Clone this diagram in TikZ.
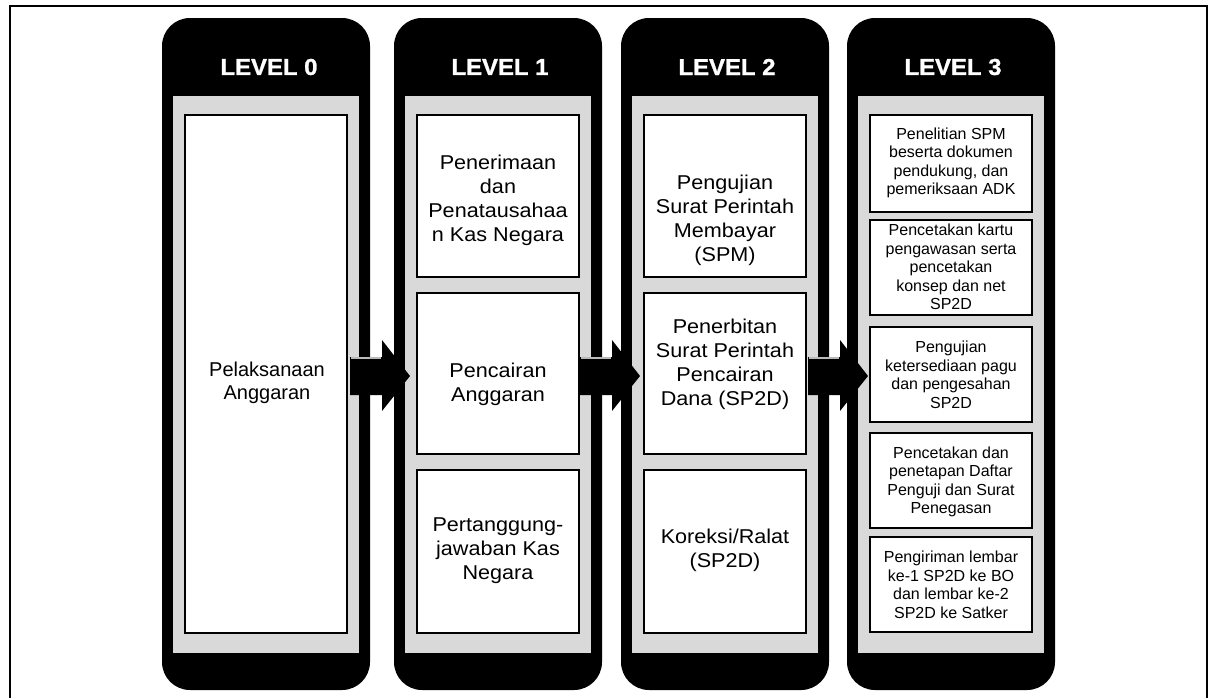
\documentclass[tikz,border=0pt]{standalone}
\usepackage{fontspec}
\setmainfont{Liberation Sans}
\newfontfamily\bodyfont{Liberation Sans}
\newfontfamily\widefont[FakeStretch=1.08]{Liberation Sans}
\newfontfamily\headfont[FakeStretch=1.04,FakeBold=1.2]{Liberation Sans}
\begin{document}
\begin{tikzpicture}[x=1pt,y=-1pt,
  colbox/.style={fill=black, rounded corners=28pt, minimum width=208pt, minimum height=672pt, inner sep=0pt},
  band/.style={fill=gray!30, minimum width=186pt, minimum height=557pt, inner sep=0pt},
  wbox/.style={draw=black, line width=1.6pt, fill=white, minimum width=162pt, inner sep=0pt},
  head/.style={text=white, font=\headfont\bfseries\fontsize{23}{26}\selectfont},
  txtZ/.style={align=center, font=\bodyfont\fontsize{20}{23}\selectfont},
  txtL/.style={align=center, font=\widefont\fontsize{20}{24}\selectfont},
  txtS/.style={align=center, font=\bodyfont\fontsize{16}{18.5}\selectfont},
  blockarrow/.style={fill=black},
  bevel/.style={draw=gray!55, line width=1.5pt}
]
\useasboundingbox (0,0) rectangle (1210,697);
\fill[white] (0,0) rectangle (1210,697);
% outer frame
\draw[line width=1.8pt] (10,699) -- (10,6) -- (1207,6) -- (1207,699);

% columns
\node[colbox] (c0) at (266,354) {};
\node[colbox] (c1) at (498,354) {};
\node[colbox] (c2) at (725,354) {};
\node[colbox] (c3) at (951,354) {};
\node[band] (g0) at (266,374.5) {};
\node[band] (g1) at (498,374.5) {};
\node[band] (g2) at (725,374.5) {};
\node[band] (g3) at (951,374.5) {};
\node[head] (h0) at (269,67) {LEVEL 0};
\node[head] (h1) at (500,67) {LEVEL 1};
\node[head] (h2) at (727,67) {LEVEL 2};
\node[head] (h3) at (953,67) {LEVEL 3};

% level 0
\node[wbox, minimum height=518pt] (b00) at (266,374) {};
\node[txtZ] (t00) at (267,383) {Pelaksanaan\\Anggaran};

% level 1
\node[wbox, minimum height=162pt] (b11) at (498,196) {};
\node[wbox, minimum height=161pt] (b12) at (498,373.5) {};
\node[wbox, minimum height=163pt] (b13) at (498,551.5) {};
\node[txtL] (t11) at (498,200) {Penerimaan\\dan\\Penatausahaa\\n Kas Negara};
\node[txtL] (t12) at (498,384) {Pencairan\\Anggaran};
\node[txtL] (t13) at (498,551) {Pertanggung-\\jawaban Kas\\Negara};

% level 2
\node[wbox, minimum height=162pt] (b21) at (725,196) {};
\node[wbox, minimum height=161pt] (b22) at (725,373.5) {};
\node[wbox, minimum height=163pt] (b23) at (725,551.5) {};
\node[txtL] (t21) at (725,220) {Pengujian\\Surat Perintah\\Membayar\\(SPM)};
\node[txtL] (t22) at (725,364) {Penerbitan\\Surat Perintah\\Pencairan\\Dana (SP2D)};
\node[txtL] (t23) at (725,550) {Koreksi/Ralat\\(SP2D)};

% level 3
\node[wbox, minimum height=97pt] (b31) at (951,163.5) {};
\node[wbox, minimum height=95pt] (b32) at (951,267.5) {};
\node[wbox, minimum height=95pt] (b33) at (951,374.5) {};
\node[wbox, minimum height=95pt] (b34) at (951,480.5) {};
\node[wbox, minimum height=95pt] (b35) at (951,584.5) {};
\node[txtS] (t31) at (951,163) {Penelitian SPM\\beserta dokumen\\pendukung, dan\\pemeriksaan ADK};
\node[txtS] (t32) at (951,267) {Pencetakan kartu\\pengawasan serta\\pencetakan\\konsep dan net\\SP2D};
\node[txtS] (t33) at (951,375) {Pengujian\\ketersediaan pagu\\dan pengesahan\\SP2D};
\node[txtS] (t34) at (951,482) {Pencetakan dan\\penetapan Daftar\\Penguji dan Surat\\Penegasan};
\node[txtS] (t35) at (951,585) {Pengiriman lembar\\ke-1 SP2D ke BO\\dan lembar ke-2\\SP2D ke Satker};

% block arrows
\coordinate (a0) at (350,376);
\coordinate (a1) at (580,376);
\coordinate (a2) at (808,376);
\foreach \a in {a0,a1,a2}{
  \fill[blockarrow] ([shift={(0,-19)}]\a) -- ([shift={(32,-19)}]\a) -- ([shift={(32,-36)}]\a)
     -- ([shift={(60,0)}]\a) -- ([shift={(32,35)}]\a) -- ([shift={(32,19)}]\a)
     -- ([shift={(0,19)}]\a) -- cycle;
  \draw[bevel] ([shift={(1,-18)}]\a) -- ([shift={(31,-18)}]\a);
}
\end{tikzpicture}
\end{document}
